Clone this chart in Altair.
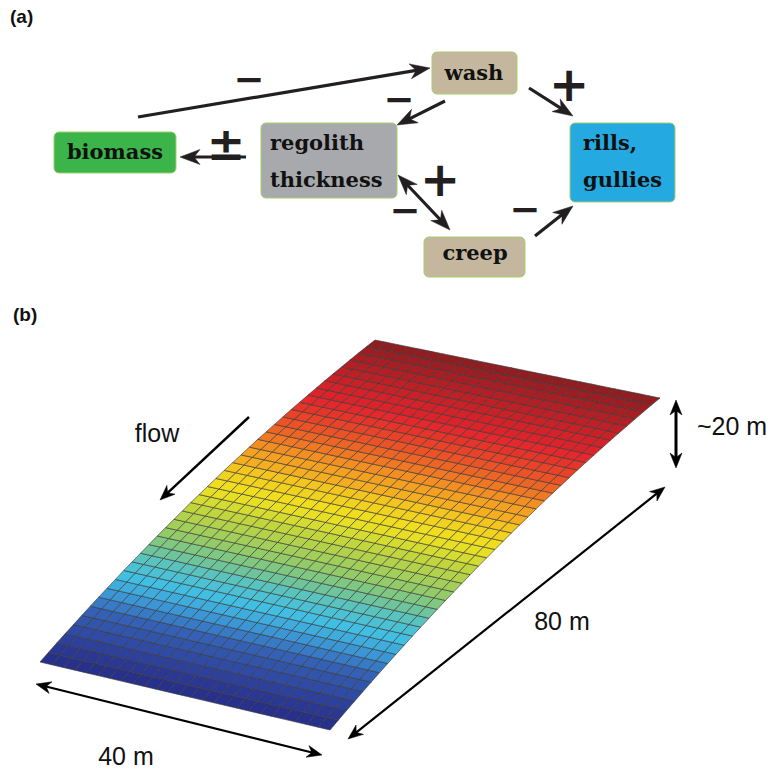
import math
import altair as alt
import pandas as pd

W, H = 773, 770

# ---------------- (a) feedback diagram ----------------
node_name = ["biomass", "regolith thickness", "wash", "creep", "rills, gullies"]
node_fill = ["#3bb44a", "#a7a9ac", "#c5b79e", "#c5b79e", "#24a9e1"]
node_x1 = [54, 261, 432, 424, 570]
node_x2 = [176, 397, 517, 525, 675]
node_y1 = [132, 123, 52, 237, 123]
node_y2 = [173, 198, 94, 277, 202]

label_center_text = ["biomass", "wash", "creep"]
label_center_x = [115, 474, 475]
label_center_y = [159, 80, 260]
label_left_text = ["regolith", "thickness", "rills,", "gullies"]
label_left_x = [270, 270, 583, 583]
label_left_y = [150, 187, 150, 187]

a_x0 = [138, 445, 529, 398, 535, 246]
a_y0 = [117, 101, 88, 175, 236, 157]
a_x1 = [430, 397, 573, 450, 573, 180]
a_y1 = [68, 125, 116, 230, 206, 157]
a_both = [False, False, False, True, False, False]

plus_x = [569, 440]
plus_y = [87, 182]
minus_x = [249, 399, 405, 525]
minus_y = [81, 101, 212, 211]
pm_x = [226]
pm_y = [160]

# ---------------- (b) hillslope surface ----------------
n_rows, n_cols = 40, 25
profile_z = [0.0, 1.0, 2.0, 2.9, 3.8, 4.7, 5.6, 6.4, 7.2, 8.0, 8.8, 9.5, 10.2, 10.9,
             11.6, 12.2, 12.8, 13.4, 14.0, 14.5, 15.0, 15.5, 16.0, 16.4, 16.8, 17.2,
             17.6, 17.9, 18.2, 18.5, 18.8, 19.0, 19.2, 19.4, 19.6, 19.7, 19.8, 19.9,
             20.0, 20.0, 20.0]
row_level = [0.00, 0.04, 0.08, 0.12, 0.15, 0.19, 0.24, 0.29, 0.33, 0.36,
             0.39, 0.43, 0.47, 0.50, 0.53, 0.55, 0.57, 0.59, 0.61, 0.63,
             0.645, 0.66, 0.68, 0.71, 0.73, 0.755, 0.78, 0.80, 0.82, 0.84,
             0.86, 0.875, 0.89, 0.90, 0.915, 0.93, 0.945, 0.96, 0.975, 0.99]
cmap_stops = [0.0, 0.10, 0.20, 0.30, 0.36, 0.44, 0.52, 0.58, 0.64, 0.70, 0.76, 0.82, 0.88, 0.94, 1.0]
cmap_colors = ["#27308a", "#2f45a0", "#3564b8", "#3b9bd8", "#40bfe3", "#5cc3b7", "#8bc96f",
               "#b8d443", "#efe11e", "#f6b51f", "#f28a22", "#eb5326", "#e3242b", "#b81f25", "#8a1c1f"]

b_x0 = [249, 36, 348, 676]
b_y0 = [417, 684, 739, 400]
b_x1 = [160, 322, 665, 676]
b_y1 = [500, 755, 487, 468]
b_both = [False, True, True, True]
b_width = [2.4, 2.2, 2.2, 3.0]

b_text = ["flow", "40 m", "80 m"]
b_text_x = [157, 126, 562]
b_text_y = [442, 765, 630]
b_text2 = ["~20 m"]
b_text2_x = [697]
b_text2_y = [435]

panel_text = ["(a)", "(b)"]
panel_x = [10, 13]
panel_y = [23, 321]

# ---------------- geometry helpers ----------------
BL0, BR0, TL0, TR0 = (40, 662), (330, 730), (375, 398), (660, 456)
ZPX = 2.9


def node_pt(i, j):
    s = i / n_rows
    u = j / n_cols
    bx = BL0[0] + (BR0[0] - BL0[0]) * u
    by = BL0[1] + (BR0[1] - BL0[1]) * u
    tx = TL0[0] + (TR0[0] - TL0[0]) * u
    ty = TL0[1] + (TR0[1] - TL0[1]) * u
    return [bx + (tx - bx) * s, by + (ty - by) * s - ZPX * profile_z[i]]


cells = []
for i in range(n_rows):
    for j in range(n_cols):
        ring = [node_pt(i, j), node_pt(i, j + 1), node_pt(i + 1, j + 1), node_pt(i + 1, j), node_pt(i, j)]
        cells.append({"type": "Feature", "properties": {"level": row_level[i]},
                      "geometry": {"type": "Polygon", "coordinates": [ring]}})


def head(tx, ty, fx, fy, L, hw, notch):
    dx, dy = tx - fx, ty - fy
    n = math.hypot(dx, dy)
    ux, uy = dx / n, dy / n
    px, py = -uy, ux
    bx, by = tx - ux * L, ty - uy * L
    nx, ny = tx - ux * (L - notch), ty - uy * (L - notch)
    return [[tx, ty], [bx + px * hw, by + py * hw], [nx, ny], [bx - px * hw, by - py * hw], [tx, ty]]


def trim(x0, y0, x1, y1, d):
    n = math.hypot(x1 - x0, y1 - y0)
    return x1 - (x1 - x0) / n * d, y1 - (y1 - y0) / n * d


def arrows(x0s, y0s, x1s, y1s, boths, L, hw, notch, widths=None):
    heads, shafts = [], []
    for k in range(len(x0s)):
        x0, y0, x1, y1 = x0s[k], y0s[k], x1s[k], y1s[k]
        heads.append({"type": "Feature", "properties": {"k": k},
                      "geometry": {"type": "Polygon", "coordinates": [head(x1, y1, x0, y0, L, hw, notch)]}})
        ex, ey = trim(x0, y0, x1, y1, L * 0.55)
        sx, sy = x0, y0
        if boths[k]:
            heads.append({"type": "Feature", "properties": {"k": k},
                          "geometry": {"type": "Polygon", "coordinates": [head(x0, y0, x1, y1, L, hw, notch)]}})
            sx, sy = trim(x1, y1, x0, y0, L * 0.55)
        shafts.append({"x": sx, "y": sy, "x2": ex, "y2": ey,
                       "w": widths[k] if widths else 3.2})
    return heads, pd.DataFrame(shafts)


a_heads, a_shafts = arrows(a_x0, a_y0, a_x1, a_y1, a_both, 20, 7.5, 6)
b_heads, b_shafts = arrows(b_x0, b_y0, b_x1, b_y1, b_both, 15, 6, 4.5, b_width)

xs = alt.Scale(domain=[0, W], nice=False, zero=False)
ys = alt.Scale(domain=[0, H], nice=False, zero=False, reverse=True)
X = lambda f: alt.X(f, type="quantitative", scale=xs, axis=None)
Y = lambda f: alt.Y(f, type="quantitative", scale=ys, axis=None)
proj = dict(type="identity", scale=1, translate=[0, 0])

surface = alt.Chart(alt.Data(values=cells)).mark_geoshape(
    stroke="#3a3a3a", strokeWidth=0.7, strokeOpacity=0.9
).encode(
    color=alt.Color("properties.level:Q", legend=None,
                    scale=alt.Scale(domain=cmap_stops, range=cmap_colors, interpolate="rgb"))
).project(**proj)

a_head_layer = alt.Chart(alt.Data(values=a_heads)).mark_geoshape(
    fill="#231f20", stroke="#231f20", strokeWidth=0.5).project(**proj)
b_head_layer = alt.Chart(alt.Data(values=b_heads)).mark_geoshape(
    fill="#000000", stroke="#000000", strokeWidth=0.5).project(**proj)

a_shaft_layer = alt.Chart(a_shafts).mark_rule(color="#231f20", strokeWidth=3.2).encode(
    x=X("x"), y=Y("y"), x2="x2:Q", y2="y2:Q")
b_shaft_layer = alt.Chart(b_shafts).mark_rule(color="#000000").encode(
    x=X("x"), y=Y("y"), x2="x2:Q", y2="y2:Q",
    strokeWidth=alt.StrokeWidth("w:Q", scale=None))

nodes = pd.DataFrame({"name": node_name, "fill": node_fill, "x": node_x1, "x2": node_x2,
                      "y": node_y1, "y2": node_y2})
box_layer = alt.Chart(nodes).mark_rect(cornerRadius=5, stroke="#a3d06c", strokeWidth=1).encode(
    x=X("x"), x2="x2:Q", y=Y("y"), y2="y2:Q", color=alt.Color("fill:N", scale=None))

serif = dict(font="DejaVu Serif", fontSize=21, fontWeight="bold", color="#111111", baseline="alphabetic")
lab_c = alt.Chart(pd.DataFrame({"t": label_center_text, "x": label_center_x, "y": label_center_y})
                  ).mark_text(align="center", **serif).encode(x=X("x"), y=Y("y"), text="t:N")
lab_l = alt.Chart(pd.DataFrame({"t": label_left_text, "x": label_left_x, "y": label_left_y})
                  ).mark_text(align="left", **serif).encode(x=X("x"), y=Y("y"), text="t:N")

sign = dict(font="DejaVu Sans", fontWeight="bold", color="#231f20", align="center")
plus_layer = alt.Chart(pd.DataFrame({"t": ["+"] * len(plus_x), "x": plus_x, "y": plus_y})
                       ).mark_text(fontSize=48, baseline="middle", **sign).encode(x=X("x"), y=Y("y"), text="t:N")
minus_layer = alt.Chart(pd.DataFrame({"t": ["\u2212"] * len(minus_x), "x": minus_x, "y": minus_y})
                        ).mark_text(fontSize=37, baseline="middle", **sign).encode(x=X("x"), y=Y("y"), text="t:N")
pm_layer = alt.Chart(pd.DataFrame({"t": ["\u00b1"], "x": pm_x, "y": pm_y})
                     ).mark_text(fontSize=46, baseline="alphabetic", **sign).encode(x=X("x"), y=Y("y"), text="t:N")

sans = dict(font="Liberation Sans", fontSize=25, color="#111111", baseline="alphabetic")
b_lab = alt.Chart(pd.DataFrame({"t": b_text, "x": b_text_x, "y": b_text_y})
                  ).mark_text(align="center", **sans).encode(x=X("x"), y=Y("y"), text="t:N")
b_lab2 = alt.Chart(pd.DataFrame({"t": b_text2, "x": b_text2_x, "y": b_text2_y})
                   ).mark_text(align="left", **sans).encode(x=X("x"), y=Y("y"), text="t:N")
panel = alt.Chart(pd.DataFrame({"t": panel_text, "x": panel_x, "y": panel_y})).mark_text(
    align="left", baseline="alphabetic", font="Liberation Sans", fontSize=19, fontWeight="bold",
    color="#111111").encode(x=X("x"), y=Y("y"), text="t:N")

chart = alt.layer(
    surface, b_shaft_layer, b_head_layer, b_lab, b_lab2,
    box_layer, a_shaft_layer, a_head_layer, lab_c, lab_l, plus_layer, minus_layer, pm_layer, panel
).properties(
    width=W, height=H, padding=0, autosize=alt.AutoSizeParams(type="none"), background="white"
).configure_view(stroke=None)

chart.save("out.html", embed_options={"renderer": "svg", "actions": False})
